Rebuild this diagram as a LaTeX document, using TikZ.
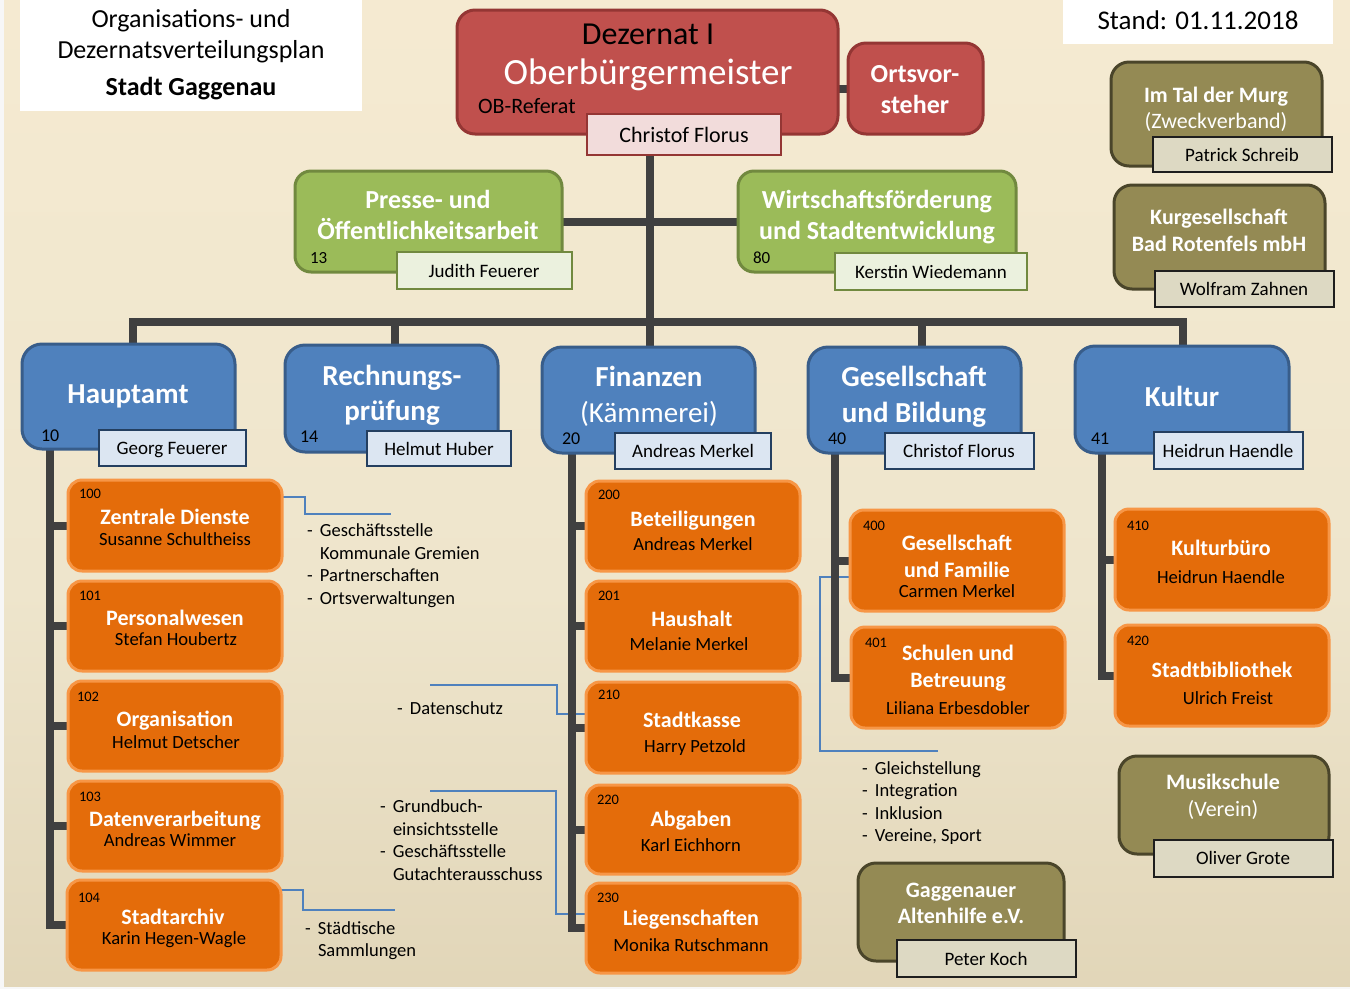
\documentclass[tikz,border=0pt]{standalone}
\usepackage{fontspec}
\setmainfont{Carlito}
\pgfdeclarelayer{backlayer}
\pgfdeclarelayer{linelayer}
\pgfsetlayers{backlayer,linelayer,main}
\definecolor{bgtop}{HTML}{FBEFD6}
\definecolor{bgmid}{HTML}{EEE5CC}
\definecolor{bgbot}{HTML}{D2C3A0}
\definecolor{redf}{HTML}{C0504D}
\definecolor{redb}{HTML}{943634}
\definecolor{pinkf}{HTML}{F2DCDB}
\definecolor{grnf}{HTML}{9BBB59}
\definecolor{grnb}{HTML}{71893F}
\definecolor{grnl}{HTML}{EBF1DE}
\definecolor{bluf}{HTML}{4F81BD}
\definecolor{blub}{HTML}{385D8A}
\definecolor{blul}{HTML}{DCE6F2}
\definecolor{blun}{HTML}{243F60}
\definecolor{orgf}{HTML}{E46C0A}
\definecolor{orgb}{HTML}{F79646}
\definecolor{olvf}{HTML}{948A54}
\definecolor{olvb}{HTML}{4A452A}
\definecolor{olvl}{HTML}{DDD9C3}
\definecolor{olvn}{HTML}{1E1E1E}
\definecolor{trk}{HTML}{404040}
\pgfdeclareverticalshading{bgshade}{100bp}{color(0bp)=(bgbot); color(45bp)=(bgmid); color(100bp)=(bgtop)}
\newcommand\fsz[1]{\fontsize{#1}{#1}\selectfont}
\newcommand\mkbox[6]{\node[#1, minimum width={(#5)-(#3)}, minimum height={(#6)-(#4)}] (#2) at ({((#3)+(#5))/2},{((#4)+(#6))/2}) {};}
\newcommand\dsh{\makebox[13pt][l]{-}}
\newcommand\annind{\hspace*{13pt}}
\begin{document}
\begin{tikzpicture}[x=1pt,y=-1pt,
  every node/.style={inner sep=0pt, outer sep=0pt},
  redbox/.style={draw=redb, fill=redf, line width=3pt, rounded corners=18pt},
  pinkname/.style={draw=redb, fill=pinkf, line width=2.5pt},
  grnbox/.style={draw=grnb, fill=grnf, line width=3pt, rounded corners=16pt},
  grnname/.style={draw=grnb, fill=grnl, line width=2.5pt},
  blubox/.style={draw=blub, fill=bluf, line width=3pt, rounded corners=20pt},
  bluname/.style={draw=blun, fill=blul, line width=2.5pt},
  orgbox/.style={draw=orgb, fill=orgf, line width=3pt, rounded corners=14pt},
  olvbox/.style={draw=olvb, fill=olvf, line width=3pt, rounded corners=18pt},
  olvname/.style={draw=olvn, fill=olvl, line width=2.5pt},
  whitebox/.style={fill=white},
  trunk/.style={draw=trk, line width=8pt},
  anno/.style={draw=bluf, line width=1.2pt},
  wb/.style={anchor=base, yshift={-0.32*#1}, text=white, font=\fsz{#1}\bfseries},
  wr/.style={anchor=base, yshift={-0.32*#1}, text=white, font=\fsz{#1}},
  bk/.style={anchor=base, yshift={-0.32*#1}, text=black, font=\fsz{#1}},
  bkb/.style={anchor=base, yshift={-0.32*#1}, text=black, font=\fsz{#1}\bfseries},
  num/.style={anchor=base west, yshift={-0.32*#1}, text=black, font=\fsz{#1}},
  ann/.style={anchor=base west, yshift={-0.32*18.5}, text=black, font=\fsz{18.5}}
]
\useasboundingbox (0,0) rectangle (1350,989);

% ---------- header boxes
\mkbox{whitebox}{titlebox}{20}{0}{362}{111}
\node[bk=26] (title1) at (191,19) {Organisations- und};
\node[bk=26] (title2) at (191,50) {Dezernatsverteilungsplan};
\node[bkb=26] (title3) at (191,87) {Stadt Gaggenau};

\mkbox{whitebox}{standbox}{1063}{0}{1333}{44}
\node[bk=27] (stand) at (1198,21) {Stand: 01.11.2018};

% ---------- Dezernat
\mkbox{redbox}{dez}{457}{10}{838}{134}
\mkbox{pinkname}{cf}{587}{114}{781}{155}
\node[bk=32] (dez1) at (648,34) {Dezernat I};
\node[wr=37] (dez2) at (648,73) {Oberbürgermeister};
\node[num=22] (dez3) at (478,106) {OB-Referat};
\node[bk=22] (cft) at (684,135) {Christof Florus};

\mkbox{redbox}{orts}{848}{43}{983}{134}
\node[wb=26] (orts1) at (915,74) {Ortsvor-};
\node[wb=26] (orts2) at (915,105) {steher};

% ---------- green
\mkbox{grnbox}{pr}{295}{171}{562}{272}
\mkbox{grnname}{prn}{397}{252}{572}{289}
\node[wb=26] (pr1) at (428,200) {Presse- und};
\node[wb=26] (pr2) at (428,231) {Öffentlichkeitsarbeit};
\node[num=17] (pr3) at (310,258) {13};
\node[bk=19] (prt) at (484,271) {Judith Feuerer};

\mkbox{grnbox}{wi}{738}{171}{1016}{272}
\mkbox{grnname}{win}{835}{253}{1027}{290}
\node[wb=26] (wi1) at (877,200) {Wirtschaftsförderung};
\node[wb=26] (wi2) at (877,231) {und Stadtentwicklung};
\node[num=17] (wi3) at (753,258) {80};
\node[bk=19] (wit) at (931,272) {Kerstin Wiedemann};

% ---------- olive (top right)
\mkbox{olvbox}{murg}{1111}{62}{1322}{166}
\mkbox{olvname}{murgn}{1153}{137}{1332}{172}
\node[wb=22] (murg1) at (1216,95) {Im Tal der Murg};
\node[wr=22] (murg2) at (1216,121) {(Zweckverband)};
\node[bk=19] (murgt) at (1242,155) {Patrick Schreib};

\mkbox{olvbox}{kur}{1114}{185}{1325}{289}
\mkbox{olvname}{kurn}{1155}{271}{1334}{307}
\node[wb=22] (kur1) at (1219,217) {Kurgesellschaft};
\node[wb=22] (kur2) at (1219,244) {Bad Rotenfels mbH};
\node[bk=19] (kurt) at (1244,289) {Wolfram Zahnen};

% ---------- blue
\mkbox{blubox}{hpt}{22}{344}{235}{449}
\mkbox{bluname}{hptn}{99}{430}{246}{466}
\node[wb=29] (hpt1) at (128,394) {Hauptamt};
\node[num=18] (hpt2) at (41,436) {10};
\node[bk=19] (hptt) at (172,448) {Georg Feuerer};

\mkbox{blubox}{rp}{285}{345}{498}{452}
\mkbox{bluname}{rpn}{367}{431}{511}{466}
\node[wb=29] (rp1) at (392,376) {Rechnungs-};
\node[wb=29] (rp2) at (392,411) {prüfung};
\node[num=18] (rp3) at (300,437) {14};
\node[bk=19] (rpt) at (439,449) {Helmut Huber};

\mkbox{blubox}{fin}{542}{347}{755}{453}
\mkbox{bluname}{finn}{615}{433}{771}{469}
\node[wb=29] (fin1) at (649,377) {Finanzen};
\node[wr=29] (fin2) at (649,413) {(Kämmerei)};
\node[num=18] (fin3) at (562,439) {20};
\node[bk=19] (fint) at (693,451) {Andreas Merkel};

\mkbox{blubox}{gb}{808}{347}{1021}{453}
\mkbox{bluname}{gbn}{885}{433}{1034}{469}
\node[wb=29] (gb1) at (914,377) {Gesellschaft};
\node[wb=29] (gb2) at (914,413) {und Bildung};
\node[num=18] (gb3) at (828,439) {40};
\node[bk=19] (gbt) at (959,451) {Christof Florus};

\mkbox{blubox}{kul}{1075}{346}{1289}{453}
\mkbox{bluname}{kuln}{1154}{432}{1303}{469}
\node[wb=29] (kul1) at (1182,397) {Kultur};
\node[num=18] (kul2) at (1091,439) {41};
\node[bk=19] (kult) at (1228,451) {Heidrun Haendle};

% ---------- orange: Hauptamt
\mkbox{orgbox}{o100}{68}{480}{282}{571}
\node[num=14.5] (o100a) at (79,494) {100};
\node[wb=22] (o100b) at (175,517) {Zentrale Dienste};
\node[bk=18.6] (o100c) at (175,540) {Susanne Schultheiss};

\mkbox{orgbox}{o101}{68}{581}{282}{671}
\node[num=14.5] (o101a) at (79,596) {101};
\node[wb=22] (o101b) at (175,618) {Personalwesen};
\node[bk=18.6] (o101c) at (176,640) {Stefan Houbertz};

\mkbox{orgbox}{o102}{68}{681}{282}{771}
\node[num=14.5] (o102a) at (77,697) {102};
\node[wb=22] (o102b) at (175,719) {Organisation};
\node[bk=18.6] (o102c) at (176,743) {Helmut Detscher};

\mkbox{orgbox}{o103}{68}{781}{282}{871}
\node[num=14.5] (o103a) at (79,797) {103};
\node[wb=22] (o103b) at (175,819) {Datenverarbeitung};
\node[bk=18.6] (o103c) at (170,841) {Andreas Wimmer};

\mkbox{orgbox}{o104}{67}{880}{281}{970}
\node[num=14.5] (o104a) at (78,898) {104};
\node[wb=22] (o104b) at (173,917) {Stadtarchiv};
\node[bk=18.6] (o104c) at (174,939) {Karin Hegen-Wagle};

% ---------- orange: Finanzen
\mkbox{orgbox}{o200}{586}{481}{800}{571}
\node[num=14.5] (o200a) at (598,495) {200};
\node[wb=22] (o200b) at (693,519) {Beteiligungen};
\node[bk=18.6] (o200c) at (693,545) {Andreas Merkel};

\mkbox{orgbox}{o201}{586}{581}{800}{671}
\node[num=14.5] (o201a) at (598,596) {201};
\node[wb=22] (o201b) at (692,619) {Haushalt};
\node[bk=18.6] (o201c) at (689,645) {Melanie Merkel};

\mkbox{orgbox}{o210}{586}{682}{800}{773}
\node[num=14.5] (o210a) at (598,695) {210};
\node[wb=22] (o210b) at (692,720) {Stadtkasse};
\node[bk=18.6] (o210c) at (695,747) {Harry Petzold};

\mkbox{orgbox}{o220}{586}{785}{800}{874}
\node[num=14.5] (o220a) at (597,800) {220};
\node[wb=22] (o220b) at (691,819) {Abgaben};
\node[bk=18.6] (o220c) at (691,846) {Karl Eichhorn};

\mkbox{orgbox}{o230}{586}{883}{800}{973}
\node[num=14.5] (o230a) at (597,898) {230};
\node[wb=22] (o230b) at (691,918) {Liegenschaften};
\node[bk=18.6] (o230c) at (691,946) {Monika Rutschmann};

% ---------- orange: Gesellschaft
\mkbox{orgbox}{o400}{850}{510}{1064}{611}
\node[num=14.5] (o400a) at (863,526) {400};
\node[wb=22] (o400b) at (957,543) {Gesellschaft};
\node[wb=22] (o400c) at (957,570) {und Familie};
\node[bk=18.6] (o400d) at (957,592) {Carmen Merkel};

\mkbox{orgbox}{o401}{851}{627}{1065}{728}
\node[num=14.5] (o401a) at (865,643) {401};
\node[wb=22] (o401b) at (958,653) {Schulen und};
\node[wb=22] (o401c) at (958,680) {Betreuung};
\node[bk=18.6] (o401d) at (958,709) {Liliana Erbesdobler};

% ---------- orange: Kultur
\mkbox{orgbox}{o410}{1115}{509}{1329}{610}
\node[num=14.5] (o410a) at (1127,526) {410};
\node[wb=22] (o410b) at (1221,548) {Kulturbüro};
\node[bk=18.6] (o410c) at (1221,578) {Heidrun Haendle};

\mkbox{orgbox}{o420}{1115}{625}{1329}{726}
\node[num=14.5] (o420a) at (1127,641) {420};
\node[wb=22] (o420b) at (1222,670) {Stadtbibliothek};
\node[bk=18.6] (o420c) at (1228,699) {Ulrich Freist};

% ---------- olive (bottom)
\mkbox{olvbox}{mus}{1119}{756}{1329}{854}
\mkbox{olvname}{musn}{1154}{840}{1333}{877}
\node[wb=22] (mus1) at (1223,782) {Musikschule};
\node[wr=22] (mus2) at (1223,809) {(Verein)};
\node[bk=19] (must) at (1243,858) {Oliver Grote};

\mkbox{olvbox}{alt}{858}{863}{1064}{961}
\mkbox{olvname}{altn}{897}{940}{1076}{977}
\node[wb=22] (alt1) at (961,890) {Gaggenauer};
\node[wb=22] (alt2) at (961,916) {Altenhilfe e.V.};
\node[bk=19] (altt) at (986,959) {Peter Koch};

% ---------- annotation texts
\node[ann] (n1a) at (307,531) {\dsh Geschäftsstelle};
\node[ann] (n1b) at (307,554) {\annind Kommunale Gremien};
\node[ann] (n1c) at (307,576) {\dsh Partnerschaften};
\node[ann] (n1d) at (307,599) {\dsh Ortsverwaltungen};

\node[ann] (n2a) at (397,709) {\dsh Datenschutz};

\node[ann] (n3a) at (380,807) {\dsh Grundbuch-};
\node[ann] (n3b) at (380,830) {\annind einsichtsstelle};
\node[ann] (n3c) at (380,852) {\dsh Geschäftsstelle};
\node[ann] (n3d) at (380,875) {\annind Gutachterausschuss};

\node[ann] (n4a) at (305,929) {\dsh Städtische};
\node[ann] (n4b) at (305,951) {\annind Sammlungen};

\node[ann] (n5a) at (862,769) {\dsh Gleichstellung};
\node[ann] (n5b) at (862,791) {\dsh Integration};
\node[ann] (n5c) at (862,814) {\dsh Inklusion};
\node[ann] (n5d) at (862,836) {\dsh Vereine, Sport};

% ---------- connectors
\begin{pgfonlayer}{linelayer}
\coordinate (bus) at (0,322);
\coordinate (tbx) at (650,0);
\coordinate (hbx) at (133,0);
\coordinate (rbx) at (395,0);
\coordinate (gbx) at (922,0);
\coordinate (kbx) at (1183,0);
\coordinate (hcol) at (50,0);
\coordinate (fcol) at (572,0);
\coordinate (gcol) at (835,0);
\coordinate (kcol) at (1102,0);
% thin annotation lines
\coordinate (a1a) at (305,497);
\coordinate (a1b) at (391,514);
\draw[anno] (o100.east |- a1a) -- (a1a) |- (a1b);
\coordinate (a2a) at (430,685);
\coordinate (a2b) at (557,714);
\draw[anno] (a2a) -| (a2b) -- (o210.west |- a2b);
\coordinate (a3a) at (430,791);
\coordinate (a3b) at (556,914);
\draw[anno] (a3a) -| (a3b) -- (o230.west |- a3b);
\coordinate (a4a) at (303,890);
\coordinate (a4b) at (395,910);
\draw[anno] (o104.east |- a4a) -- (a4a) |- (a4b);
\coordinate (a5a) at (820,577);
\coordinate (a5b) at (938,751);
\draw[anno] (o400.west |- a5a) -- (a5a) |- (a5b);
% main structure
\draw[trunk] (orts.west) -- (orts.west -| dez.east);
\draw[trunk] (tbx |- cf.south) -- (tbx |- fin.north);
\draw[trunk] (pr.east) -- (wi.west);
\draw[trunk] (hbx |- hpt.north) -- (hbx |- bus) -- (kbx |- bus) -- (kbx |- kul.north);
\draw[trunk] (rbx |- bus) -- (rbx |- rp.north);
\draw[trunk] (gbx |- bus) -- (gbx |- gb.north);
% columns
\draw[trunk] (hcol |- hpt.south) -- (hcol |- o104.west) -- (o104.west);
\foreach \n in {o100,o101,o102,o103} \draw[trunk] (hcol |- \n.west) -- (\n.west);
\draw[trunk] (fcol |- fin.south) -- (fcol |- o230.west) -- (o230.west);
\foreach \n in {o200,o201,o210,o220} \draw[trunk] (fcol |- \n.west) -- (\n.west);
\draw[trunk] (gcol |- gb.south) -- (gcol |- o401.west) -- (o401.west);
\draw[trunk] (gcol |- o400.west) -- (o400.west);
\draw[trunk] (kcol |- kul.south) -- (kcol |- o420.west) -- (o420.west);
\draw[trunk] (kcol |- o410.west) -- (o410.west);
\end{pgfonlayer}

% ---------- background
\begin{pgfonlayer}{backlayer}
\fill[white!94!gray] (0,0) rectangle (1350,989);
\shade[shading=bgshade] (4,0) rectangle (1350,986);
\end{pgfonlayer}
\end{tikzpicture}
\end{document}
